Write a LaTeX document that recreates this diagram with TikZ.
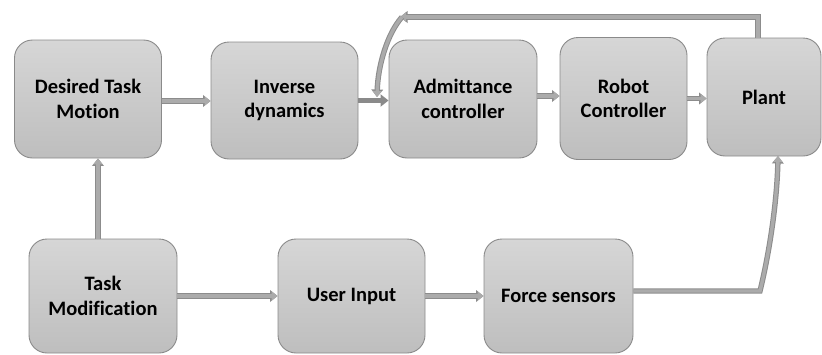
\documentclass[tikz,border=0pt]{standalone}
\usepackage{fontspec}
\setmainfont[Ligatures=NoCommon]{Carlito}
\usetikzlibrary{arrows.meta,calc}
\definecolor{boxtop}{HTML}{D6D6D6}
\definecolor{boxbot}{HTML}{BEBEBE}
\definecolor{boxedge}{HTML}{8A8A8A}
\definecolor{arrfill}{HTML}{ABABAB}
\definecolor{arredge}{HTML}{8C8C8C}
\definecolor{arrdark}{HTML}{8A8A8A}
\begin{document}
\begin{tikzpicture}[x=1pt,y=-1pt,
  blk/.style={draw=boxedge, line width=0.9pt, rounded corners=18pt,
    top color=boxtop, bottom color=boxbot, align=center, inner sep=0pt,
    font=\bfseries\fontsize{20.5}{24.5}\selectfont, text=black},
  conn/.style={line width=3.4pt, draw=arrfill,
    -{Triangle[length=6pt,width=9pt,fill=arrfill]},
    preaction={draw=arredge, line width=5.4pt,
      -{Triangle[length=7.5pt,width=11.5pt,fill=arredge]}}},
  darkconn/.style={line width=5.4pt, draw=arrdark,
    -{Triangle[length=8pt,width=12pt,fill=arrdark]}}
]
\useasboundingbox (0,0) rectangle (822,354);

% blocks of the upper chain
\node[blk, minimum width=147pt, minimum height=118pt] (dtm) at (88,99) {Desired Task\\Motion};
\node[blk, minimum width=147pt, minimum height=117pt] (inv) at (284.5,100.5) {Inverse\\dynamics};
\node[blk, minimum width=148pt, minimum height=118pt] (adm) at (463,99) {Admittance\\controller};
\node[blk, minimum width=127pt, minimum height=122pt] (rc) at (623.5,98.5) {Robot\\Controller};
\node[blk, minimum width=114pt, minimum height=118pt] (plant) at (764,97) {Plant};

% blocks of the lower chain
\node[blk, minimum width=148pt, minimum height=114pt] (tm) at (103,296) {Task\\Modification};
\node[blk, minimum width=147pt, minimum height=114pt] (ui) at (351.5,296) {User Input};
\node[blk, minimum width=149pt, minimum height=114pt] (fs) at (558.5,296) {Force sensors};

% forward path
\draw[conn] ([yshift=-2pt]dtm.east) -- ([yshift=-2pt]dtm.east -| inv.west);
\draw[darkconn] (inv.east) -- (inv.east -| adm.west);
\draw[conn] ([yshift=3pt]adm.east) -- ([yshift=3pt]adm.east -| rc.west);
\draw[conn] (rc.east) -- (rc.east -| plant.west);

% lower chain
\draw[conn] ([xshift=-5pt]tm.north) -- ([xshift=-5pt]tm.north |- dtm.south);
\draw[conn] (tm.east) -- (tm.east -| ui.west);
\draw[conn] (ui.east) -- (ui.east -| fs.west);

% sensor signal into the plant
\coordinate (bend) at (760,291);
\coordinate (pin) at (778,156);
\draw[conn] ([yshift=5pt]fs.east) -- (bend) .. controls (770,250) and (777,200) .. (pin);

% feedback from the plant
\coordinate (fbup) at (758,17);
\coordinate (fbend) at (400,17);
\coordinate (fbdown) at (377,97);
\draw[conn, line width=4.4pt, preaction={line width=6.4pt}] ([xshift=-6pt]plant.north) -- (fbup) -- (fbend);
\draw[conn] ([xshift=2pt]fbend) .. controls (387,34) and (378,66) .. (fbdown);
\end{tikzpicture}
\end{document}
